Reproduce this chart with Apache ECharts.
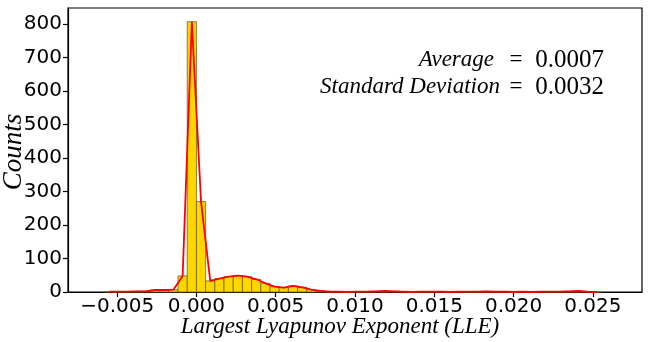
<!DOCTYPE html>
<html>
<head>
<meta charset="utf-8">
<script src="https://cdn.jsdelivr.net/npm/echarts@6/dist/echarts.min.js"></script>
<style>html,body{margin:0;padding:0;background:#fff}#c{width:665px;height:342px}</style>
</head>
<body>
<div id="c"></div>
<script>
// Histogram data
const binStart = -0.0058;
const binWidth = 0.00058;
const counts = [1, 1, 1, 2, 2, 6, 6, 7, 48, 807, 270, 33, 40, 46, 49, 46, 38, 26, 16, 13, 18, 14, 7, 3, 1,
  1, 0, 1, 1, 2, 3, 2, 1, 0, 1, 1, 1, 0, 1, 1, 1, 2, 1, 1, 0, 1, 0, 1, 1, 1, 2, 3, 1, 0];
const xTicks = [-0.005, 0.000, 0.005, 0.010, 0.015, 0.020, 0.025];
const yTicks = [0, 100, 200, 300, 400, 500, 600, 700, 800];
const statLabels = ['Average', 'Standard Deviation'];
const statValues = ['0.0007', '0.0032'];

const barData = counts.map((c, i) => [binStart + i * binWidth, binStart + (i + 1) * binWidth, c]);
const lineData = counts.map((c, i) => [binStart + (i + 0.5) * binWidth, c]);

const chart = echarts.init(document.getElementById('c'), null, {renderer: 'canvas'});
const serif = '"Liberation Serif", "DejaVu Serif", serif';
chart.setOption({
  animation: false,
  grid: {left: 68, right: 23, top: 8, bottom: 50, show: true, borderColor: '#000', borderWidth: 1.2, backgroundColor: 'transparent'},
  xAxis: {
    type: 'value', min: -0.0081, max: 0.0281,
    axisLine: {show: true, onZero: false, lineStyle: {color: '#000', width: 1.2}},
    axisTick: {show: true, length: 5, customValues: xTicks, lineStyle: {color: '#000', width: 1.2}},
    axisLabel: {customValues: xTicks, color: '#000', fontSize: 20, fontFamily: '"DejaVu Sans"', margin: 5,
      formatter: v => v.toFixed(3).replace('-', '\u2212')},
    splitLine: {show: false}
  },
  yAxis: {
    type: 'value', min: 0, max: 848,
    axisLine: {show: true, onZero: false, lineStyle: {color: '#000', width: 1.2}},
    axisTick: {show: true, length: 5, customValues: yTicks, lineStyle: {color: '#000', width: 1.2}},
    axisLabel: {customValues: yTicks, color: '#000', fontSize: 20, fontFamily: '"DejaVu Sans"', margin: 6},
    splitLine: {show: false}
  },
  series: [
    {
      type: 'custom',
      data: barData,
      encode: {x: [0, 1], y: 2},
      renderItem: function (params, api) {
        const p0 = api.coord([api.value(0), api.value(2)]);
        const p1 = api.coord([api.value(1), 0]);
        return {type: 'rect', shape: {x: p0[0], y: p0[1], width: p1[0] - p0[0], height: p1[1] - p0[1]},
          style: {fill: '#FFD700', stroke: '#6e6222', lineWidth: 0.8}};
      },
      z: 2
    },
    {
      type: 'line', data: lineData, showSymbol: false, symbol: 'none',
      lineStyle: {color: '#FF0000', width: 1.8}, z: 3
    }
  ],
  graphic: [
    {type: 'text', x: 14, y: 152, rotation: Math.PI / 2, style: {text: 'Counts', font: 'italic 27px ' + serif, fill: '#000', textAlign: 'center', textVerticalAlign: 'middle'}},
    {type: 'text', x: 340, y: 327, style: {text: 'Largest Lyapunov Exponent (LLE)', font: 'italic 23px ' + serif, fill: '#000', textAlign: 'center', textVerticalAlign: 'middle'}},
    {type: 'text', x: 494, y: 60, style: {text: statLabels[0], font: 'italic 23px ' + serif, fill: '#000', textAlign: 'right', textVerticalAlign: 'middle'}},
    {type: 'text', x: 516, y: 60, style: {text: '=', font: '23px ' + serif, fill: '#000', textAlign: 'center', textVerticalAlign: 'middle'}},
    {type: 'text', x: 604, y: 60, style: {text: statValues[0], font: '25px ' + serif, fill: '#000', textAlign: 'right', textVerticalAlign: 'middle'}},
    {type: 'text', x: 500, y: 87, style: {text: statLabels[1], font: 'italic 23px ' + serif, fill: '#000', textAlign: 'right', textVerticalAlign: 'middle'}},
    {type: 'text', x: 516, y: 87, style: {text: '=', font: '23px ' + serif, fill: '#000', textAlign: 'center', textVerticalAlign: 'middle'}},
    {type: 'text', x: 604, y: 87, style: {text: statValues[1], font: '25px ' + serif, fill: '#000', textAlign: 'right', textVerticalAlign: 'middle'}}
  ]
});
</script>
</body>
</html>
